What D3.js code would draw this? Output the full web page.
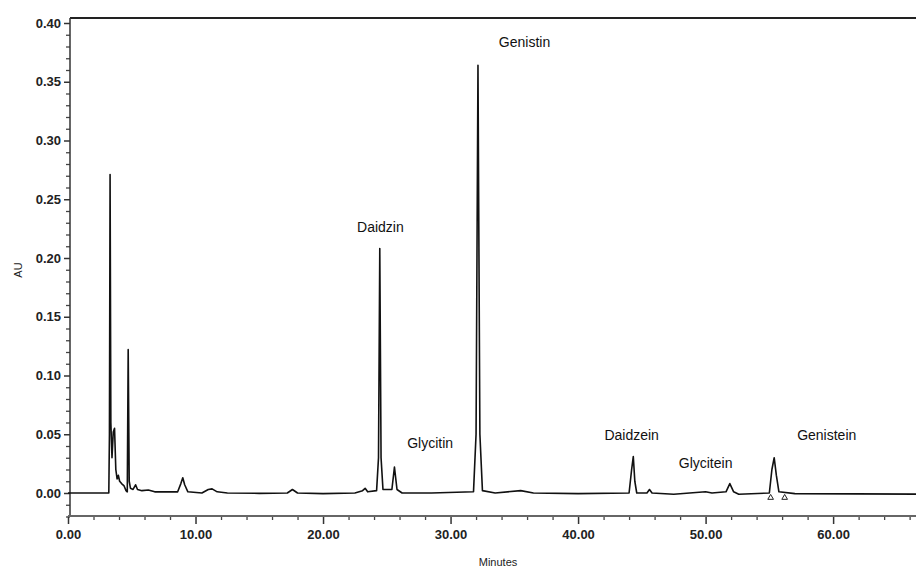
<!DOCTYPE html>
<html>
<head>
<meta charset="utf-8">
<script src="https://cdn.jsdelivr.net/npm/d3@7"></script>
<style>
  body { margin: 0; background: #fff; }
  svg { display: block; font-family: "Liberation Sans", Arial, sans-serif; }
</style>
</head>
<body>
<div id="chart"></div>
<script>
// chromatogram trace (minutes, AU)
const times = [0, 3.2, 3.25, 3.3, 3.36, 3.45, 3.55, 3.65, 3.75, 3.85, 3.95, 4.05, 4.2, 4.4, 4.55, 4.65, 4.72, 4.8, 4.9,
  5.1, 5.3, 5.45, 5.8, 6.3, 6.8, 7.5, 8.6, 8.85, 9.0, 9.15, 9.4, 10.5, 11.0, 11.3, 11.7, 12.5, 15, 17.2, 17.6, 18.0,
  20, 22.5, 23.1, 23.3, 23.5, 24.2, 24.35, 24.45, 24.55, 24.7, 25.4, 25.6, 25.8, 26.2, 28.5, 31.8, 32.0, 32.15, 32.3,
  32.5, 33.5, 35.5, 36.5, 40, 44.0, 44.2, 44.33, 44.45, 44.6, 45.4, 45.6, 45.8, 47.5, 50.0, 50.5, 51.6, 51.9, 52.2,
  52.6, 55.0, 55.2, 55.38, 55.55, 55.75, 57, 66.5];
const au = [0, 0, 0.05, 0.271, 0.06, 0.03, 0.052, 0.055, 0.02, 0.012, 0.015, 0.010, 0.008, 0.006, 0.002, 0.001, 0.122, 0.01, 0.004,
  0.003, 0.007, 0.003, 0.002, 0.0025, 0.001, 0.001, 0.001, 0.008, 0.013, 0.007, 0.001, 0, 0.003, 0.0035, 0.001, 0, -0.0003, 0, 0.003, 0,
  -0.0005, 0, 0.002, 0.004, 0.001, 0.002, 0.03, 0.208, 0.03, 0.003, 0.003, 0.022, 0.003, 0, 0, 0.001, 0.05, 0.364, 0.05,
  0.002, 0, 0.002, 0, -0.0005, 0, 0.02, 0.031, 0.01, 0, 0, 0.003, 0, -0.001, 0.001, 0, 0.001, 0.008, 0.001,
  -0.001, 0, 0.02, 0.030, 0.015, 0.001, -0.0005, -0.001];

// peak names and label anchors
const peakNames = ["Daidzin", "Glycitin", "Genistin", "Daidzein", "Glycitein", "Genistein"];
const labelTimes = [24.5, 28.4, 35.8, 44.2, 50.0, 59.5];
const labelAU = [0.222, 0.038, 0.380, 0.045, 0.021, 0.045];

// integration marks
const markTimes = [55.1, 56.2];

const yTicks = [0, 0.05, 0.10, 0.15, 0.20, 0.25, 0.30, 0.35, 0.40];
const yMinor = [-0.02, -0.01, 0.01, 0.02, 0.03, 0.04, 0.06, 0.07, 0.08, 0.09, 0.11, 0.12, 0.13, 0.14, 0.16, 0.17, 0.18, 0.19,
  0.21, 0.22, 0.23, 0.24, 0.26, 0.27, 0.28, 0.29, 0.31, 0.32, 0.33, 0.34, 0.36, 0.37, 0.38, 0.39];
const xTicks = [0, 10, 20, 30, 40, 50, 60];
const xMinor = [2, 4, 6, 8, 12, 14, 16, 18, 22, 24, 26, 28, 32, 34, 36, 38, 42, 44, 46, 48, 52, 54, 56, 58, 62, 64, 66];

const W = 916, H = 568;
const x = d3.scaleLinear().domain([0, 66.5]).range([68, 916]);
const y = d3.scaleLinear().domain([0, 0.40]).range([493, 23]);

const svg = d3.select("#chart").append("svg").attr("width", W).attr("height", H);

// top frame line
svg.append("line").attr("x1", 70).attr("x2", W).attr("y1", 18).attr("y2", 18)
  .attr("stroke", "#222").attr("stroke-width", 2);

// y axis: minor ticks first, then labelled major ticks
svg.append("g").attr("transform", "translate(70,0)")
  .call(d3.axisLeft(y).tickValues(yMinor).tickSize(4).tickFormat(""))
  .call(g => g.select(".domain").remove())
  .call(g => g.selectAll(".tick line").attr("stroke", "#444").attr("stroke-width", 1.3));
const yAxis = svg.append("g").attr("transform", "translate(70,0)");
yAxis.call(d3.axisLeft(y).tickValues(yTicks).tickFormat(d3.format(".2f")).tickSize(6).tickPadding(3))
  .call(g => g.select(".domain").remove())
  .call(g => g.selectAll(".tick line").attr("stroke", "#333").attr("stroke-width", 1.5))
  .call(g => g.selectAll(".tick text").attr("font-size", 13).attr("font-weight", "bold")
    .attr("fill", "#222").attr("font-family", "Liberation Sans, Arial, sans-serif"));
svg.append("line").attr("x1", 70).attr("x2", 70).attr("y1", 18).attr("y2", 515)
  .attr("stroke", "#333").attr("stroke-width", 1.5);

// x axis: line below the plot
svg.append("g").attr("transform", "translate(0,516)")
  .call(d3.axisBottom(x).tickValues(xMinor).tickSize(4).tickFormat(""))
  .call(g => g.select(".domain").remove())
  .call(g => g.selectAll(".tick line").attr("stroke", "#444").attr("stroke-width", 1.3));
const xAxis = svg.append("g").attr("transform", "translate(0,516)");
xAxis.call(d3.axisBottom(x).tickValues(xTicks).tickFormat(d3.format(".2f")).tickSize(8).tickPadding(6))
  .call(g => g.select(".domain").remove())
  .call(g => g.selectAll(".tick line").attr("stroke", "#333").attr("stroke-width", 1.5))
  .call(g => g.selectAll(".tick text").attr("font-size", 13).attr("font-weight", "bold")
    .attr("fill", "#222").attr("font-family", "Liberation Sans, Arial, sans-serif"));
svg.append("line").attr("x1", 68).attr("x2", W).attr("y1", 516).attr("y2", 516)
  .attr("stroke", "#666").attr("stroke-width", 2);

// axis titles
svg.append("text").attr("x", 498).attr("y", 566).attr("text-anchor", "middle")
  .attr("font-size", 11).attr("fill", "#222").text("Minutes");
svg.append("text").attr("transform", "translate(22,270) rotate(-90)").attr("text-anchor", "middle")
  .attr("font-size", 11).attr("fill", "#222").text("AU");

// trace
const pts = times.map((t, i) => [t, au[i]]);
svg.append("path").datum(pts)
  .attr("d", d3.line().x(d => x(d[0])).y(d => y(d[1])))
  .attr("fill", "none").attr("stroke", "#111").attr("stroke-width", 1.6).attr("stroke-linejoin", "round");

// integration triangles
svg.selectAll("path.mark").data(markTimes).enter().append("path").attr("class", "mark")
  .attr("d", d3.symbol(d3.symbolTriangle, 14))
  .attr("transform", d => `translate(${x(d)},${y(-0.004)})`)
  .attr("fill", "none").attr("stroke", "#222").attr("stroke-width", 1);

// peak labels
svg.selectAll("text.peak").data(peakNames).enter().append("text").attr("class", "peak")
  .attr("x", (d, i) => x(labelTimes[i])).attr("y", (d, i) => y(labelAU[i]))
  .attr("text-anchor", "middle").attr("font-size", 14).attr("fill", "#111")
  .text(d => d);
</script>
</body>
</html>
